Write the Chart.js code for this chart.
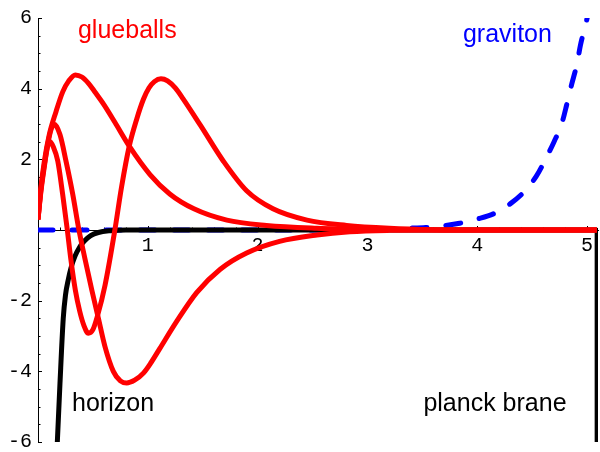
<!DOCTYPE html>
<html>
<head>
<meta charset="utf-8">
<script src="https://cdn.jsdelivr.net/npm/chart.js@4.4.0/dist/chart.umd.min.js"></script>
<style>
  html, body { margin: 0; padding: 0; overflow: hidden; background: #fff; }
</style>
</head>
<body>
<canvas id="chart" width="600" height="460"></canvas>
<script>
// tick labels
const xTicks = [1, 2, 3, 4, 5];
const yTicks = [-6, -4, -2, 2, 4, 6];

// glueball modes, [x, y]
const glueball0 = [[0, 0.3], [0.027, 1.21], [0.058, 1.95], [0.103, 2.70], [0.164, 3.35], [0.225, 3.91],
  [0.28, 4.22], [0.34, 4.39], [0.40, 4.33], [0.46, 4.15], [0.52, 3.9], [0.60, 3.55], [0.70, 3.05],
  [0.83, 2.38], [1.02, 1.57], [1.20, 1.02], [1.42, 0.60], [1.72, 0.28], [2.08, 0.13], [2.54, 0.05],
  [3.0, 0.015], [3.6, 0], [5.09, 0]];
const glueball1 = [[0, 0.3], [0.027, 1.15], [0.058, 1.85], [0.09, 2.45], [0.12, 2.85], [0.149, 2.99],
  [0.20, 2.7], [0.255, 1.95], [0.316, 1.02], [0.37, 0.05], [0.43, -0.85], [0.49, -1.7], [0.55, -2.5],
  [0.61, -3.3], [0.686, -4.0], [0.75, -4.27], [0.808, -4.33], [0.88, -4.25], [0.96, -4.05], [1.03, -3.75],
  [1.11, -3.35], [1.26, -2.6], [1.445, -1.77], [1.66, -1.11], [1.90, -0.65], [2.20, -0.32], [2.54, -0.14],
  [2.84, -0.05], [3.2, -0.01], [3.6, 0], [5.09, 0]];
const glueball2 = [[0, 0.3], [0.027, 1.1], [0.058, 1.8], [0.08, 2.25], [0.103, 2.51], [0.14, 2.35],
  [0.18, 1.95], [0.225, 1.0], [0.265, 0.05], [0.30, -0.85], [0.34, -1.7], [0.38, -2.3], [0.42, -2.72],
  [0.458, -2.92], [0.50, -2.82], [0.54, -2.45], [0.61, -1.57], [0.70, 0], [0.76, 1.2], [0.83, 2.36],
  [0.90, 3.15], [0.96, 3.7], [1.01, 4.02], [1.06, 4.2], [1.12, 4.28], [1.18, 4.22], [1.25, 4.02],
  [1.32, 3.72], [1.48, 2.96], [1.69, 1.94], [1.90, 1.11], [2.14, 0.60], [2.45, 0.28], [2.81, 0.13],
  [3.2, 0.05], [3.6, 0.01], [4.0, 0], [5.09, 0]];

const graviton = [[0, 0], [1, 0], [2, 0], [3, 0.01], [3.37, 0.05], [3.53, 0.07], [3.69, 0.12], [3.84, 0.19],
  [4.0, 0.31], [4.15, 0.46], [4.30, 0.74], [4.42, 1.06], [4.54, 1.53], [4.62, 1.99], [4.70, 2.5],
  [4.77, 3.01], [4.82, 3.61], [4.86, 4.12], [4.91, 4.72], [4.94, 5.23], [4.99, 5.85], [5.03, 6.4]];

const horizon = [[0.172, -6.3], [0.176, -6], [0.20, -4.35], [0.23, -2.5], [0.25, -1.85], [0.276, -1.4],
  [0.30, -1.08], [0.337, -0.74], [0.38, -0.48], [0.42, -0.32], [0.48, -0.16], [0.55, -0.07],
  [0.66, -0.02], [0.8, 0], [5.09, 0]];
const brane = [[5.09, 0], [5.09, -6.3]];

const notes = [
  { text: 'glueballs', x: 0.364, y: 5.44, color: '#ff0000' },
  { text: 'graviton', x: 3.87, y: 5.33, color: '#0000ff' },
  { text: 'horizon', x: 0.31, y: -5.11, color: '#000000' },
  { text: 'planck brane', x: 3.51, y: -5.11, color: '#000000' },
];

const toXY = (pts) => pts.map(([x, y]) => ({ x, y }));
const tickFont = { family: '"Liberation Mono", "Courier New", monospace', size: 20 };

function curve(pts, color, extra) {
  return Object.assign({
    data: toXY(pts),
    showLine: true,
    borderColor: color,
    borderWidth: 5,
    pointRadius: 0,
    fill: false,
    cubicInterpolationMode: 'monotone',
    borderJoinStyle: 'round',
  }, extra);
}

// small tick marks on the inside of both axes
const tickMarks = {
  id: 'tickMarks',
  beforeDatasetsDraw(chart) {
    const { ctx, scales: { x, y } } = chart;
    const y0 = y.getPixelForValue(0);
    ctx.save();
    ctx.strokeStyle = '#000';
    ctx.lineWidth = 1;
    ctx.beginPath();
    for (let i = 0; i <= 25; i++) {
      const px = Math.round(x.getPixelForValue(i * 0.2)) + 0.5;
      ctx.moveTo(px, y0);
      ctx.lineTo(px, y0 - (i % 5 === 0 ? 4 : 2.5));
    }
    for (let i = -12; i <= 12; i++) {
      const py = Math.round(y.getPixelForValue(i * 0.5)) + 0.5;
      ctx.moveTo(x.left, py);
      ctx.lineTo(x.left + (i % 4 === 0 ? 4 : 2.5), py);
    }
    ctx.stroke();
    ctx.restore();
  }
};

const noteLabels = {
  id: 'noteLabels',
  afterDatasetsDraw(chart) {
    const { ctx, scales: { x, y } } = chart;
    ctx.save();
    ctx.font = '25px "Liberation Sans"';
    ctx.textBaseline = 'alphabetic';
    ctx.textAlign = 'left';
    notes.forEach(n => {
      ctx.fillStyle = n.color;
      ctx.fillText(n.text, x.getPixelForValue(n.x), y.getPixelForValue(n.y));
    });
    ctx.restore();
  }
};

// first dataset is drawn on top: red, then black, then the blue dashes underneath
new Chart(document.getElementById('chart'), {
  type: 'scatter',
  data: {
    datasets: [
      curve(glueball0, '#ff0000'),
      curve(glueball1, '#ff0000'),
      curve(glueball2, '#ff0000'),
      curve(horizon, '#000000'),
      curve(brane, '#000000', { cubicInterpolationMode: 'default', tension: 0, borderWidth: 4.5 }),
      curve(graviton, '#0000ff', { borderDash: [15, 19], borderCapStyle: 'round' }),
    ]
  },
  options: {
    responsive: false,
    animation: false,
    layout: { padding: { top: 15, right: 2, bottom: 15, left: 0 } },
    plugins: { legend: { display: false }, tooltip: { enabled: false } },
    scales: {
      x: {
        type: 'linear',
        min: 0,
        max: 5.1,
        position: { y: 0 },
        grid: { display: true, drawOnChartArea: false, drawTicks: false },
        border: { display: true, color: '#000', width: 1 },
        afterBuildTicks: (s) => { s.ticks = xTicks.map(v => ({ value: v })); },
        ticks: { font: tickFont, color: '#000', padding: 4, maxRotation: 0, autoSkip: false },
      },
      y: {
        type: 'linear',
        min: -6,
        max: 6,
        position: 'left',
        afterFit: (s) => { s.width = 38; },
        grid: { display: true, drawOnChartArea: false, drawTicks: false },
        border: { display: true, color: '#000', width: 1 },
        afterBuildTicks: (s) => { s.ticks = yTicks.map(v => ({ value: v })); },
        ticks: { font: tickFont, color: '#000', padding: 6, autoSkip: false },
      }
    }
  },
  plugins: [tickMarks, noteLabels]
});
</script>
</body>
</html>
